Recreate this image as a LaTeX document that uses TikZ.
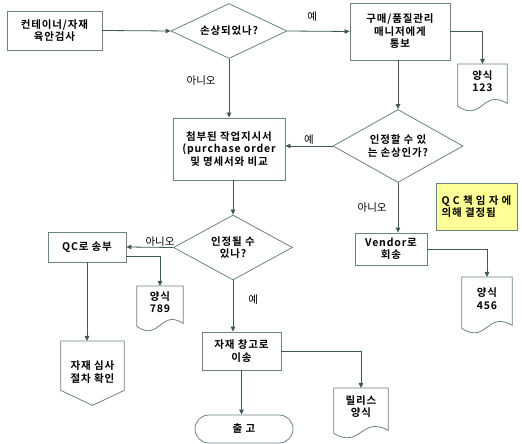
\documentclass[tikz,border=0pt]{standalone}
\usepackage{fontspec}
\setmainfont{Noto Sans CJK KR}[BoldFont={Noto Sans CJK KR Bold}]
\usetikzlibrary{arrows.meta,positioning,shapes.geometric}
\definecolor{edgegray}{HTML}{3F5858}
\definecolor{boxgray}{HTML}{6A8282}
\definecolor{noteyellow}{HTML}{FFFF99}
\newcommand{\boxfont}{\fontsize{10.5}{12.5}\selectfont\bfseries\addfontfeature{LetterSpace=8}}
% document symbol with wavy bottom, drawn round a node
\newcommand{\docshape}[1]{%
  \draw[shapeline] ([yshift=-8pt]#1.south west) -- (#1.north west) -- (#1.north east)
    -- ([yshift=-5pt]#1.south east)
    .. controls ([yshift=10pt]#1.south) and ([yshift=-24pt]#1.south) .. ([yshift=-8pt]#1.south west);}
% off-page connector
\newcommand{\offpage}[1]{%
  \draw[shapeline] (#1.north west) -- (#1.north east) -- ([yshift=13pt]#1.south east)
    -- ([yshift=-2pt]#1.south) -- ([yshift=13pt]#1.south west) -- cycle;}

\begin{document}
\begin{tikzpicture}[
  x=1pt, y=1pt,
  shapeline/.style={draw=boxgray, line width=0.8pt},
  block/.style={shapeline, align=center, inner sep=2pt, font=\boxfont},
  decision/.style={shapeline, diamond, aspect=2, align=center, inner sep=0pt, font=\boxfont},
  docnode/.style={align=center, inner sep=0pt, anchor=north, font=\boxfont},
  terminal/.style={block, rounded corners=14pt},
  lab/.style={inner sep=1pt, font=\fontsize{10.5}{12}\selectfont},
  arrow/.style={-{Triangle[length=5pt,width=4.5pt]}, draw=edgegray, line width=0.8pt}
]
\useasboundingbox (0,0) rectangle (522,444);

\node[block, minimum width=95pt, minimum height=39pt] (inspect) at (54.5,413.5) {컨테이너/자재\\육안검사};
\node[decision, minimum width=116pt, minimum height=55pt] (damaged) at (229,413) {손상되었나?};
\node[block, minimum width=100pt, minimum height=57pt] (notify) at (400,412.5) {구매/품질관리\\매니저에게\\통보};
\node[docnode, minimum width=49pt, minimum height=34pt] (form123) at (482.5,380) {양식\\123};

\node[block, minimum width=112pt, minimum height=62pt] (compare) at (229,295) {첨부된 작업지시서\\(purchase order\\및 명세서와 비교};
\node[decision, minimum width=130pt, minimum height=73pt] (acceptable) at (398,298) {인정할 수 있\\는 손상인가?};
\node[block, fill=noteyellow, align=left, minimum width=81pt, minimum height=47pt] (qcnote) at (476.5,237.5) {Q C 책 임 자 에\\의해 결정됨};
\node[block, minimum width=72pt, minimum height=32pt] (vendor) at (391,195) {Vendor로\\회송};
\node[docnode, minimum width=50pt, minimum height=43pt] (form456) at (487,167) {양식\\456};

\node[decision, minimum width=119pt, minimum height=65pt] (canaccept) at (233,196.5) {인정될 수\\있나?};
\node[block, minimum width=78pt, minimum height=30pt] (sendqc) at (87,197) {QC로 송부};
\node[docnode, minimum width=46pt, minimum height=32pt] (form789) at (160,158) {양식\\789};
\node[docnode, minimum width=63pt, minimum height=62pt] (review) at (92.5,103) {자재 심사\\절차 확인};
\node[block, minimum width=79pt, minimum height=38pt] (warehouse) at (241.5,93) {자재 창고로\\이송};
\node[docnode, minimum width=54pt, minimum height=37pt] (release) at (361,56) {릴리스\\양식};
\node[terminal, minimum width=98pt, minimum height=28pt] (ship) at (244,15) {출 고};

\docshape{form123}
\docshape{form456}
\docshape{form789}
\docshape{release}
\offpage{review}

\draw[arrow] (inspect.east) -- (damaged.west);
\draw[arrow] (damaged.east) -- node[lab, above=8pt, pos=0.4] {예} (notify.west);
\draw[arrow] (damaged.south) -- node[lab, left=12pt, pos=0.37] {아니오} (compare.north);
\draw[arrow] (notify.east) -| (form123.north);
\draw[arrow] (notify.south -| acceptable.north) -- (acceptable.north);
\draw[arrow] (acceptable.west) -- node[lab, above] {예} (acceptable.west -| compare.east);
\draw[arrow] (acceptable.south) -- node[lab, left=10pt] {아니오} (acceptable.south |- vendor.north);
\draw[arrow] (vendor.east) -| (form456.north);
\draw[arrow] (compare.south -| canaccept.north) -- (canaccept.north);
\draw[arrow] (canaccept.west) -- node[lab, above, pos=0.28] {아니오} (sendqc.east);
\draw[arrow] ([yshift=-9pt]sendqc.east) -| (form789.north);
\draw[arrow] (sendqc.south) -- (sendqc.south |- review.north);
\draw[arrow] (canaccept.south) -- node[lab, right=14pt, pos=0.38] {예} (canaccept.south |- warehouse.north);
\draw[arrow] (warehouse.south) -- (warehouse.south |- ship.north);
\draw[arrow] (warehouse.east) -| (release.north);
\end{tikzpicture}
\end{document}
